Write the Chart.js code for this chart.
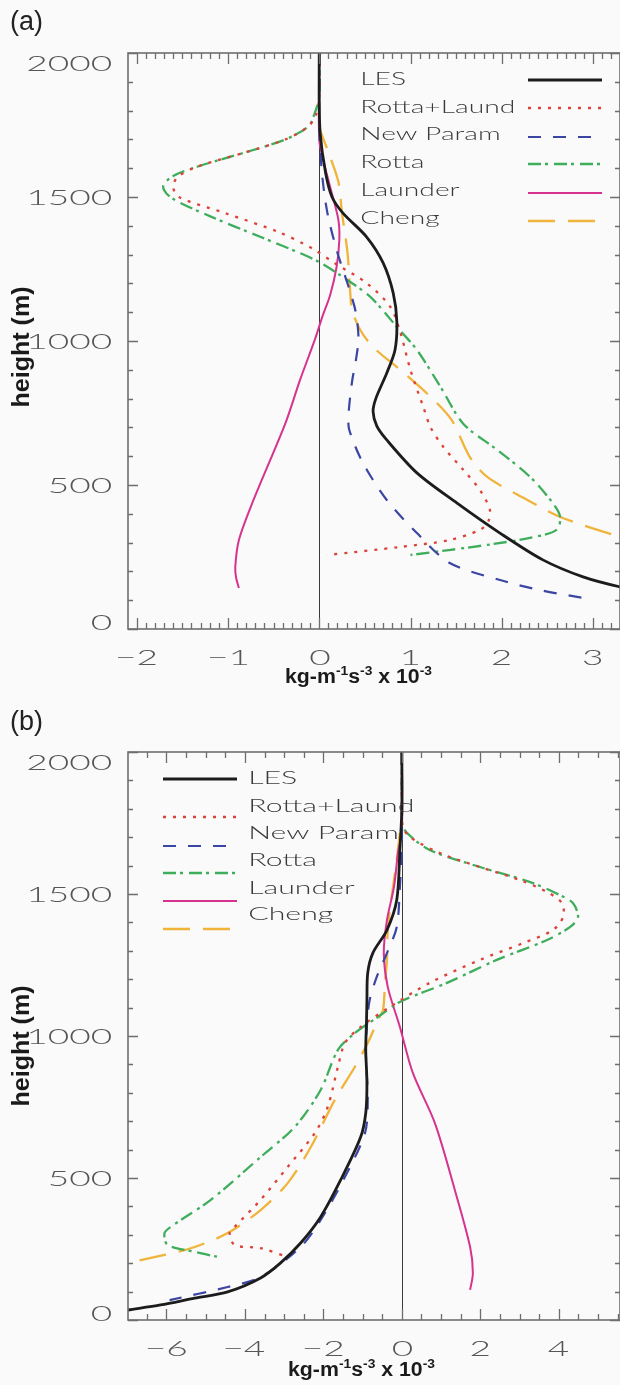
<!DOCTYPE html>
<html><head><meta charset="utf-8">
<script src="https://cdn.jsdelivr.net/npm/chart.js@4.4.1/dist/chart.umd.min.js"></script>
<style>
html,body{margin:0;padding:0;background:#fafafa;}
#wrap{position:relative;width:620px;height:1385px;overflow:hidden;}
canvas{display:block;position:absolute;left:0;}
#ca{top:0;}
#cb{top:692px;}
</style></head><body>
<div id="wrap"><canvas id="ca" width="620" height="692"></canvas><canvas id="cb" width="620" height="693"></canvas></div>
<script>
// ---------------- data ----------------
const SERIES = ['LES', 'Rotta+Laund', 'New Param', 'Rotta', 'Launder', 'Cheng'];
const A_XLABELS = [-2, -1, 0, 1, 2, 3];
const B_XLABELS = [-6, -4, -2, 0, 2, 4];
const YLABELS = [0, 500, 1000, 1500, 2000];

// panel (a): [value (kg m^-1 s^-3 x 10^-3), height (m)]
const A_LES = [[0,2000],[0,1850],[0.01,1722],[0.07,1583],[0.14,1500],[0.26,1444],[0.52,1361],[0.70,1271],[0.81,1167],[0.85,1068],[0.83,969],[0.74,889],[0.62,800],[0.59,755],[0.63,705],[0.73,660],[1.07,542],[1.51,437],[1.98,333],[2.45,240],[2.89,181],[3.30,146],[3.60,130]];
const A_RL  = [[0,2000],[0,1850],[-0.03,1790],[-0.12,1745],[-0.37,1700],[-0.81,1655],[-1.33,1606],[-1.55,1570],[-1.60,1535],[-1.54,1500],[-1.03,1444],[-0.45,1379],[-0.08,1322],[0.18,1268],[0.52,1201],[0.78,1118],[0.89,1028],[1.00,899],[1.14,771],[1.22,700],[1.36,632],[1.58,552],[1.76,483],[1.87,413],[1.85,372],[1.76,344],[1.43,309],[0.89,285],[0.09,257]];
const A_NP  = [[0,2000],[0,1850],[0,1743],[0.03,1583],[0.09,1444],[0.20,1306],[0.33,1180],[0.40,1100],[0.43,1010],[0.40,930],[0.36,860],[0.32,740],[0.33,690],[0.48,576],[0.74,448],[1.07,333],[1.43,229],[1.98,170],[2.42,135],[2.89,108]];
const A_RO  = [[0,2000],[0,1850],[-0.05,1790],[-0.12,1745],[-0.37,1700],[-0.81,1655],[-1.33,1606],[-1.60,1573],[-1.71,1538],[-1.62,1497],[-1.18,1431],[-0.64,1361],[-0.21,1305],[0.0,1274],[0.26,1222],[0.56,1153],[0.85,1049],[1.07,969],[1.33,840],[1.58,712],[1.95,622],[2.31,528],[2.56,437],[2.64,389],[2.60,344],[2.35,319],[1.84,292],[1.00,257]];
const A_LA  = [[0,2000],[0,1700],[0.05,1620],[0.12,1535],[0.21,1420],[0.22,1350],[0.19,1257],[0.12,1160],[0.04,1090],[-0.05,1003],[-0.21,865],[-0.37,715],[-0.72,448],[-0.88,309],[-0.92,215],[-0.91,177],[-0.88,142]];
const A_CH  = [[0.0,1760],[0.01,1733],[0.12,1639],[0.21,1552],[0.25,1444],[0.31,1306],[0.34,1167],[0.36,1108],[0.45,1038],[0.59,979],[0.89,899],[1.22,806],[1.45,726],[1.65,597],[1.84,528],[2.28,448],[2.64,389],[3.30,319],[3.60,290]];

// panel (b)
const B_LES = [[0,2000],[0,1800],[-0.05,1655],[-0.13,1479],[-0.38,1373],[-0.74,1292],[-0.87,1222],[-0.89,1127],[-0.90,1056],[-0.92,951],[-0.89,834],[-0.92,729],[-1.05,644],[-1.56,493],[-2.07,363],[-2.58,271],[-3.09,201],[-3.60,148],[-4.44,99],[-5.28,77],[-6.15,53],[-6.99,35],[-7.30,28]];
const B_RL  = [[0,2000],[0,1780],[0.03,1736],[0.20,1701],[0.97,1644],[1.99,1595],[3.01,1549],[3.70,1507],[4.08,1468],[4.11,1419],[3.85,1373],[3.09,1327],[1.99,1268],[0.71,1187],[-0.33,1100],[-1.05,1032],[-1.45,975],[-1.63,891],[-1.89,750],[-2.22,658],[-2.91,539],[-3.60,423],[-4.26,328],[-4.39,306],[-4.26,264],[-3.60,253],[-2.91,222]];
const B_NP  = [[0,2000],[0,1680],[-0.05,1525],[-0.13,1384],[-0.38,1292],[-0.64,1208],[-0.82,1127],[-0.88,1056],[-0.92,951],[-0.87,775],[-0.94,658],[-1.45,504],[-2.07,352],[-2.58,257],[-3.60,151],[-4.44,116],[-5.92,70]];
const B_RO  = [[0,2000],[0,1780],[0.0,1750],[0.13,1715],[0.71,1655],[1.99,1595],[3.27,1542],[4.03,1496],[4.36,1468],[4.49,1419],[4.29,1384],[3.70,1338],[2.42,1268],[1.15,1187],[-0.05,1120],[-0.61,1067],[-1.20,1010],[-1.63,951],[-2.07,810],[-2.73,680],[-3.60,574],[-4.87,423],[-5.89,328],[-6.05,306],[-5.97,264],[-5.28,240],[-4.69,222]];
const B_LA  = [[0,2000],[0,1720],[-0.10,1644],[-0.20,1525],[-0.38,1408],[-0.46,1292],[-0.36,1173],[-0.05,1032],[0.28,870],[0.84,694],[1.35,458],[1.74,257],[1.81,165],[1.74,106]];
const B_CH  = [[-0.05,1715],[-0.13,1620],[-0.26,1489],[-0.36,1373],[-0.38,1268],[-0.43,1187],[-0.48,1092],[-0.61,1056],[-0.87,975],[-1.20,891],[-1.71,775],[-2.32,609],[-2.91,482],[-3.60,387],[-4.44,306],[-5.28,257],[-6.05,229],[-6.99,201],[-7.30,192]];

// ---------------- styles ----------------
const STYLE = [
  {color:'#1c1c1c', width:2.8, dash:[]},
  {color:'#dd4238', width:2.3, dash:[3,7]},
  {color:'#3b45a3', width:2.2, dash:[13,12]},
  {color:'#3fae5c', width:2.3, dash:[13,4,3,6]},
  {color:'#d6338f', width:2.0, dash:[]},
  {color:'#f0b43a', width:2.3, dash:[27,13]}
];
const AXIS_COLOR = '#6e6e6e';
const TICK_FONT = '300 22px Lato, "DejaVu Sans", sans-serif';
const LEG_FONT = '300 17px Lato, "DejaVu Sans", sans-serif';
const TITLE_FONT = 'bold 23px "Liberation Sans", Arial, sans-serif';

function stepTicks(min, max, step) {
  const out = [];
  for (let k = Math.ceil(min / step - 1e-9); k * step <= max + 1e-9; k++) out.push({value: +(k * step).toFixed(6)});
  return out;
}
function fmt(v) { return v < 0 ? '\u2212' + Math.abs(v) : String(v); }

// draw text horizontally stretched by sx, aligned on its ink box
function sText(ctx, text, X, Y, sx, align) {
  const m = ctx.measureText(text);
  const l = m.actualBoundingBoxLeft, r = m.actualBoundingBoxRight;
  let off;
  if (align === 'right') off = X - r * sx;
  else if (align === 'center') off = X - (r - l) / 2 * sx;
  else off = X + l * sx;
  ctx.save(); ctx.translate(off, Y); ctx.scale(sx, 1); ctx.textAlign = 'left'; ctx.textBaseline = 'alphabetic';
  ctx.fillText(text, 0, 0); ctx.restore();
}
function inkW(ctx, text) { const m = ctx.measureText(text); return m.actualBoundingBoxLeft + m.actualBoundingBoxRight; }

function makeFrame(cfg) {
  return {
    id: 'frame_' + cfg.name,
    beforeDatasetsDraw(chart) {
      const {ctx, chartArea: a, scales: {x}} = chart;
      const zx = Math.round(x.getPixelForValue(0)) + 0.5;
      ctx.save(); ctx.strokeStyle = '#3a3a3a'; ctx.lineWidth = 1;
      ctx.beginPath(); ctx.moveTo(zx, a.top); ctx.lineTo(zx, a.bottom); ctx.stroke(); ctx.restore();
    },
    afterDraw(chart) {
      const {ctx, chartArea: a, scales: {x, y}} = chart;
      ctx.save();
      // frame
      ctx.strokeStyle = AXIS_COLOR; ctx.lineWidth = 1.6;
      ctx.strokeRect(a.left, a.top, a.right - a.left, a.bottom - a.top);
      // ticks
      ctx.lineWidth = 1.3;
      ctx.beginPath();
      x.ticks.forEach(t => {
        const px = Math.round(x.getPixelForValue(t.value)) + 0.5;
        const major = cfg.xlabels.some(l => Math.abs(l - t.value) < 1e-6);
        const L = major ? 11 : 6;
        ctx.moveTo(px, a.bottom); ctx.lineTo(px, a.bottom - L);
        ctx.moveTo(px, a.top); ctx.lineTo(px, a.top + L);
      });
      y.ticks.forEach(t => {
        const py = Math.round(y.getPixelForValue(t.value)) + 0.5;
        const major = YLABELS.some(l => Math.abs(l - t.value) < 1e-6);
        const L = major ? 10 : 5;
        ctx.moveTo(a.left, py); ctx.lineTo(a.left + L, py);
        ctx.moveTo(a.right, py); ctx.lineTo(a.right - L, py);
      });
      ctx.stroke();
      // tick labels
      ctx.fillStyle = '#555';
      ctx.font = TICK_FONT;
      const sx = 83 / inkW(ctx, '2000');
      cfg.xlabels.forEach(v => {
        sText(ctx, fmt(v), x.getPixelForValue(v), a.bottom + 36, sx, 'center');
      });
      YLABELS.forEach(v => {
        const py = y.getPixelForValue(v);
        let by = py + 8;
        if (v === 2000) by = a.top + 18;
        if (v === 0) by = a.bottom + 1;
        sText(ctx, fmt(v), 111, by, sx, 'right');
      });
      // legend
      ctx.font = LEG_FONT;
      const lsx = cfg.legW / inkW(ctx, 'Rotta+Laund');
      chart.data.datasets.forEach((ds, i) => {
        ctx.fillStyle = '#3a3a3a';
        sText(ctx, ds.label, cfg.legTextX, cfg.legTextY[i] + 6, lsx, 'left');
        ctx.save();
        ctx.strokeStyle = ds.borderColor; ctx.lineWidth = ds.borderWidth; ctx.setLineDash(ds.borderDash);
        ctx.beginPath(); ctx.moveTo(cfg.legLine[0], cfg.legLineY[i]); ctx.lineTo(cfg.legLine[1], cfg.legLineY[i]); ctx.stroke();
        ctx.restore();
      });
      // panel letter
      ctx.fillStyle = '#222';
      ctx.font = '27px "Liberation Sans", Arial, sans-serif';
      ctx.textAlign = 'left'; ctx.textBaseline = 'alphabetic';
      ctx.fillText(cfg.letter, 10, cfg.letterY);
      // y title
      ctx.save();
      ctx.font = TITLE_FONT; ctx.fillStyle = '#1a1a1a';
      ctx.translate(28.5, cfg.yTitleY); ctx.rotate(-Math.PI / 2);
      const tw = ctx.measureText('height (m)').width;
      ctx.scale(121 / tw, 1);
      ctx.textAlign = 'center'; ctx.fillText('height (m)', 0, 0);
      ctx.restore();
      // x title with superscripts
      const parts = [['kg-m', 0], ['-1', 1], ['s', 0], ['-3', 1], [' x 10', 0], ['-3', 1]];
      const big = 'bold 20px "Liberation Sans", Arial, sans-serif';
      const small = 'bold 13px "Liberation Sans", Arial, sans-serif';
      let total = 0;
      parts.forEach(([t, s]) => { ctx.font = s ? small : big; total += ctx.measureText(t).width; });
      const k = 147 / total;
      ctx.save(); ctx.translate(cfg.xTitleX, cfg.xTitleY); ctx.scale(k, 1);
      ctx.fillStyle = '#1a1a1a';
      let cx = 0;
      parts.forEach(([t, s]) => { ctx.font = s ? small : big; ctx.fillText(t, cx, s ? -8 : 0); cx += ctx.measureText(t).width; });
      ctx.restore();
      ctx.restore();
    }
  };
}

function makeChart(id, series, cfg) {
  const datasets = SERIES.map((name, i) => ({
    label: name,
    data: series[i].map(([v, h]) => ({x: v, y: h})),
    borderColor: STYLE[i].color, borderWidth: STYLE[i].width, borderDash: STYLE[i].dash,
    showLine: true, pointRadius: 0, pointHoverRadius: 0, tension: 0.3, fill: false, clip: 0
  }));
  return new Chart(document.getElementById(id), {
    type: 'scatter',
    data: {datasets},
    options: {
      responsive: false, animation: false, devicePixelRatio: 1,
      layout: {padding: cfg.pad},
      plugins: {legend: {display: false}, tooltip: {enabled: false}},
      scales: {
        x: {type: 'linear', min: cfg.xmin, max: cfg.xmax,
            afterBuildTicks: s => { s.ticks = stepTicks(cfg.xmin, cfg.xmax, cfg.xstep); },
            ticks: {display: false}, grid: {display: false, drawTicks: false}, border: {display: false}},
        y: {type: 'linear', min: 0, max: 2000,
            afterBuildTicks: s => { s.ticks = stepTicks(0, 2000, 100); },
            ticks: {display: false}, grid: {display: false, drawTicks: false}, border: {display: false}}
      }
    },
    plugins: [makeFrame(cfg)]
  });
}

makeChart('ca', [A_LES, A_RL, A_NP, A_RO, A_LA, A_CH], {
  name: 'a', letter: '(a)', letterY: 30,
  pad: {left: 128, top: 53, right: 0, bottom: 63},
  xmin: -2.095, xmax: 3.295, xstep: 0.1, xlabels: A_XLABELS,
  legTextX: 362, legTextY: [79, 107, 134, 162, 190, 218], legW: 151,
  legLine: [528, 602], legLineY: [80, 108, 137, 164, 193, 221],
  yTitleY: 347, xTitleX: 285, xTitleY: 683
});
makeChart('cb', [B_LES, B_RL, B_NP, B_RO, B_LA, B_CH], {
  name: 'b', letter: '(b)', letterY: 37.5,
  pad: {left: 128, top: 60, right: 0, bottom: 65},
  xmin: -6.98, xmax: 5.56, xstep: 0.5, xlabels: B_XLABELS,
  legTextX: 250, legTextY: [86, 114, 141, 168, 196, 222], legW: 162,
  legLine: [163, 237], legLineY: [87, 125, 154, 181, 209, 237],
  yTitleY: 354, xTitleX: 288, xTitleY: 684
});
</script>
</body></html>
